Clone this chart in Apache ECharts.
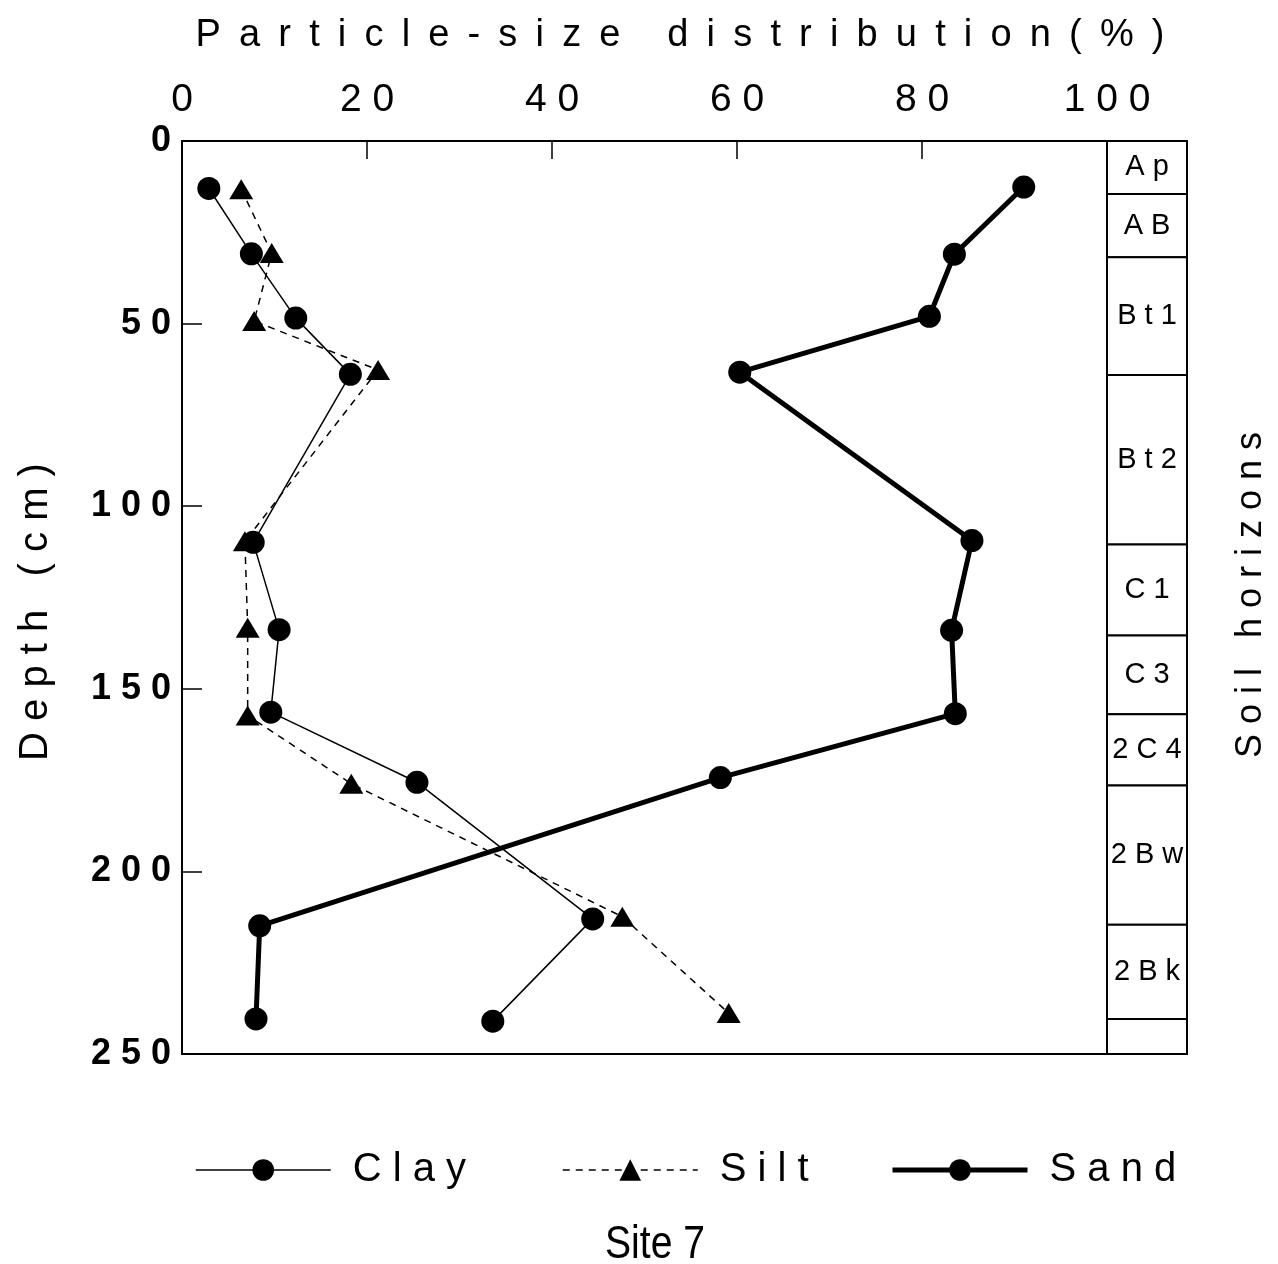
<!DOCTYPE html>
<html>
<head>
<meta charset="utf-8">
<title>Site 7 particle-size distribution</title>
<script src="https://cdn.jsdelivr.net/npm/echarts@6/dist/echarts.min.js"></script>
<style>
  html, body { margin: 0; padding: 0; background: #fff; }
  #chart { width: 1278px; height: 1264px; }
</style>
</head>
<body>
<div id="chart"></div>
<script>
// Particle-size fractions (%) by sample depth (cm)
const clayDepth = [13.0, 30.9, 48.5, 63.9, 109.9, 133.8, 156.4, 175.6, 213.0, 241.0];
const clayPct   = [2.9, 7.5, 12.3, 18.2, 7.7, 10.5, 9.6, 25.4, 44.4, 33.6];
const siltDepth = [13.2, 30.7, 49.3, 62.7, 109.6, 133.3, 157.3, 176.0, 212.4, 238.8];
const siltPct   = [6.4, 9.7, 7.8, 21.2, 6.8, 7.1, 7.1, 18.3, 47.6, 59.1];
const sandDepth = [12.6, 31.0, 48.0, 63.3, 109.4, 134.0, 156.8, 174.3, 214.9, 240.4];
const sandPct   = [91.0, 83.5, 80.8, 60.3, 85.4, 83.2, 83.6, 58.2, 8.4, 8.0];

// Soil horizons with upper and lower boundaries (cm)
const horizonNames  = ['Ap', 'AB', 'Bt1', 'Bt2', 'C1', 'C3', '2C4', '2Bw', '2Bk', ''];
const horizonTop    = [0, 14.5, 31.8, 64.1, 110.5, 135.4, 157.0, 176.5, 214.6, 240.4];
const horizonBottom = [14.5, 31.8, 64.1, 110.5, 135.4, 157.0, 176.5, 214.6, 240.4, 250];

// Axis ticks
const pctTicks   = [0, 20, 40, 60, 80, 100];
const depthTicks = [0, 50, 100, 150, 200, 250];

const seriesNames = ['Clay', 'Silt', 'Sand'];
const titleText = 'Particle-size distribution(%)';
const depthTitle = 'Depth (cm)';
const horizonTitle = 'Soil horizons';
const siteText = 'Site 7';

const SANS = "'Liberation Sans', Arial, sans-serif";

// widen text by putting a gap between the characters
const spaced = (s, gap = ' ') => String(s).split('').join(gap);
const pairs = (xs, ys) => xs.map((x, i) => [x, ys[i]]);

const chart = echarts.init(document.getElementById('chart'), null, { renderer: 'canvas' });

const gridTop = 141, gridHeight = 913;

// one legend per series so each entry sits at its own place along the bottom
const legendLeft = [195, 562, 890];
const legendLine = [1.5, 1.5, 5];
const legends = seriesNames.map((name, i) => ({
  left: legendLeft[i], top: 1150, padding: 0,
  itemWidth: 135, itemHeight: 27,
  data: [{ name, lineStyle: { width: legendLine[i] } }],
  formatter: n => spaced(n),
  textStyle: { color: '#000', fontFamily: SANS, fontSize: 40, padding: [0, 0, 0, 17] }
}));

const option = {
  backgroundColor: '#fff',
  animation: false,
  grid: [
    { left: 182, top: gridTop, width: 925, height: gridHeight, show: true, borderColor: '#000', borderWidth: 2, backgroundColor: 'transparent' },
    { left: 1107, top: gridTop, width: 80, height: gridHeight, show: false }
  ],
  xAxis: [
    {
      gridIndex: 0, type: 'value', position: 'top',
      min: pctTicks[0], max: pctTicks[pctTicks.length - 1], interval: pctTicks[1] - pctTicks[0],
      axisLine: { show: true, lineStyle: { color: '#000', width: 2 } },
      axisTick: { show: true, inside: true, length: 18, lineStyle: { color: '#000', width: 1.5 } },
      axisLabel: { color: '#000', fontFamily: SANS, fontSize: 39, margin: 21, formatter: v => spaced(v) },
      splitLine: { show: false }
    },
    { gridIndex: 1, type: 'value', min: 0, max: 1, show: false }
  ],
  yAxis: [
    {
      gridIndex: 0, type: 'value', inverse: true,
      min: depthTicks[0], max: depthTicks[depthTicks.length - 1], interval: depthTicks[1] - depthTicks[0],
      axisLine: { show: true, lineStyle: { color: '#000', width: 2 } },
      axisTick: { show: true, inside: true, length: 20, lineStyle: { color: '#000', width: 1.5 } },
      axisLabel: { color: '#000', fontFamily: SANS, fontWeight: 'bold', fontSize: 36, margin: 11, formatter: v => spaced(v) },
      splitLine: { show: false }
    },
    { gridIndex: 1, type: 'value', inverse: true, min: 0, max: 250, show: false }
  ],
  legend: legends,
  graphic: [
    { type: 'text', x: 680, y: 36, style: { text: spaced(titleText, ' \u2009'), font: `38px ${SANS}`, fill: '#000', align: 'center', verticalAlign: 'middle' } },
    { type: 'text', x: 36, y: 612, rotation: Math.PI / 2, style: { text: spaced(depthTitle), font: `40px ${SANS}`, fill: '#000', align: 'center', verticalAlign: 'middle' } },
    { type: 'text', x: 1251, y: 595, rotation: Math.PI / 2, style: { text: spaced(horizonTitle), font: `36px ${SANS}`, fill: '#000', align: 'center', verticalAlign: 'middle' } },
    { type: 'text', x: 655, y: 1245, scaleX: 0.85, style: { text: siteText, font: `46px ${SANS}`, fill: '#000', align: 'center', verticalAlign: 'middle' } }
  ],
  series: [
    {
      name: 'Clay', type: 'line', xAxisIndex: 0, yAxisIndex: 0,
      data: pairs(clayPct, clayDepth),
      symbol: 'circle', symbolSize: 23,
      lineStyle: { color: '#000', width: 1.5 },
      itemStyle: { color: '#000' }, z: 3
    },
    {
      name: 'Silt', type: 'line', xAxisIndex: 0, yAxisIndex: 0,
      data: pairs(siltPct, siltDepth),
      symbol: 'triangle', symbolSize: [24, 20],
      lineStyle: { color: '#000', width: 1.5, type: [7, 6] },
      itemStyle: { color: '#000' }, z: 3
    },
    {
      name: 'Sand', type: 'line', xAxisIndex: 0, yAxisIndex: 0,
      data: pairs(sandPct, sandDepth),
      symbol: 'circle', symbolSize: 23,
      lineStyle: { color: '#000', width: 5 },
      itemStyle: { color: '#000' }, z: 3
    },
    {
      name: 'Horizons', type: 'custom', xAxisIndex: 1, yAxisIndex: 1,
      data: horizonNames.map((n, i) => [horizonTop[i], horizonBottom[i], n]),
      renderItem: (params, api) => {
        const p0 = api.coord([0, api.value(0)]);
        const p1 = api.coord([1, api.value(1)]);
        const name = horizonNames[params.dataIndex];
        return {
          type: 'rect',
          shape: { x: p0[0], y: p0[1], width: p1[0] - p0[0], height: p1[1] - p0[1] },
          style: { fill: '#fff', stroke: '#000', lineWidth: 2 },
          textContent: { style: { text: spaced(name), font: `29px ${SANS}`, fill: '#000' } },
          textConfig: { position: 'inside' }
        };
      },
      silent: true
    }
  ]
};

chart.setOption(option);
</script>
</body>
</html>
